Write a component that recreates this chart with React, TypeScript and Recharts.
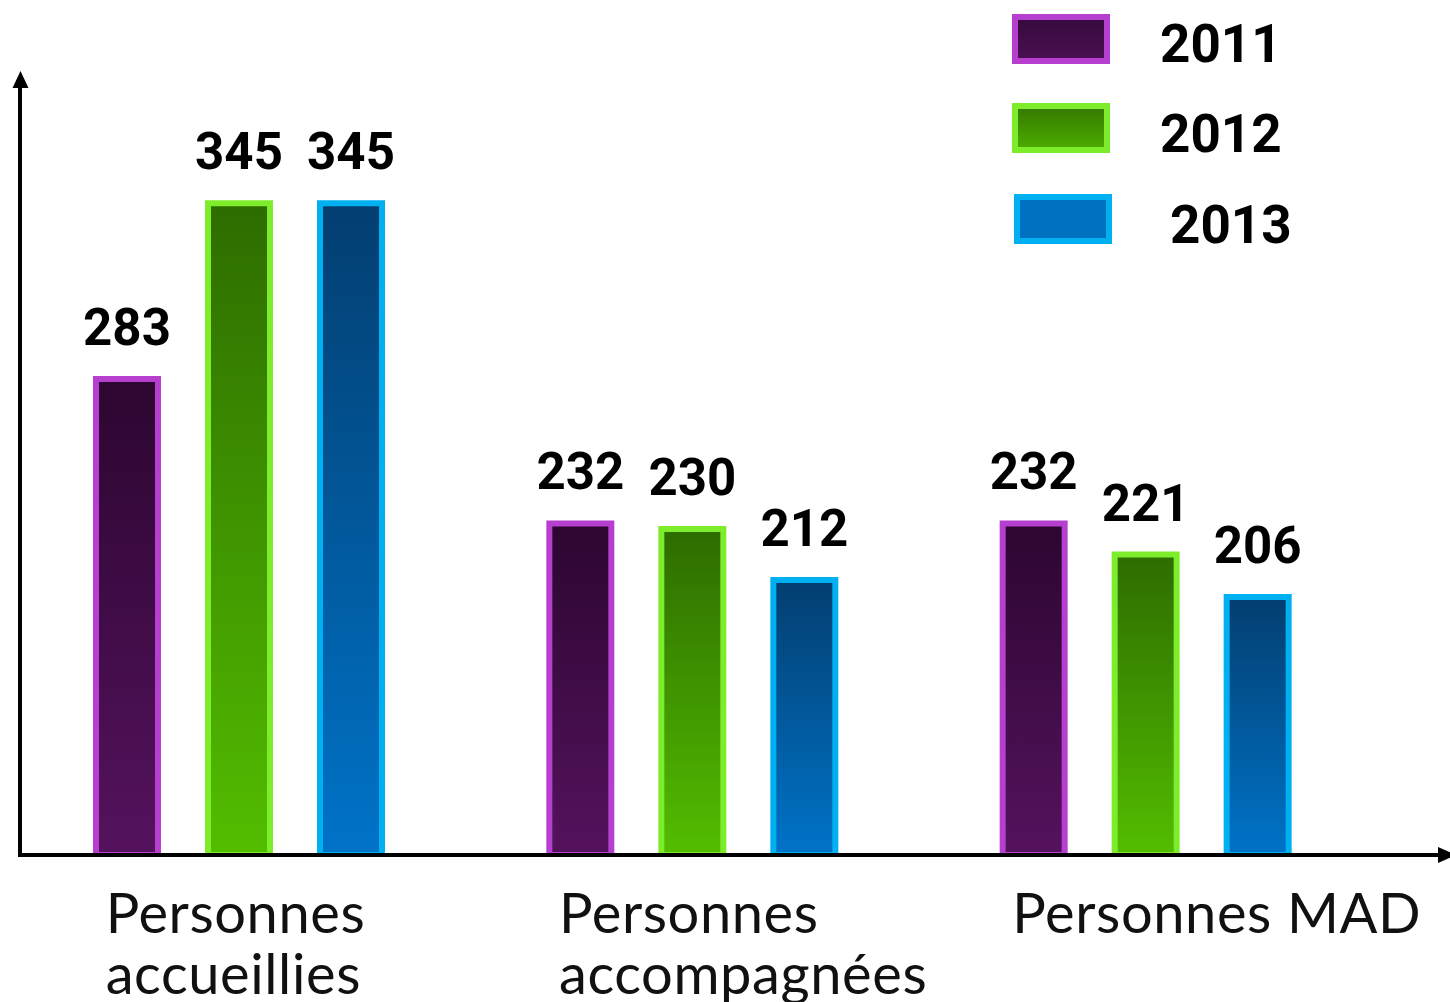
import React from 'react';
import { BarChart, Bar, XAxis, YAxis, LabelList } from 'recharts';

const categories = ['Personnes accueillies', 'Personnes accompagnées', 'Personnes MAD'];
const tickLines: string[][] = [['Personnes', 'accueillies'], ['Personnes', 'accompagnées'], ['Personnes MAD']];
const values2011 = [283, 232, 232];
const values2012 = [345, 230, 221];
const values2013 = [345, 212, 206];
const seriesNames = ['2011', '2012', '2013'];
const seriesKeys = ['y2011', 'y2012', 'y2013'];
const strokes = ['#b63fd0', '#7ded2b', '#00b0f0'];
const gradIds = ['gPurple', 'gGreen', 'gBlue'];

const data = categories.map((c, i) => ({
  category: c,
  y2011: values2011[i],
  y2012: values2012[i],
  y2013: values2013[i],
}));

const W = 1450;
const H = 1002;

const CategoryTick = (props: any) => {
  const { x, y, index } = props;
  const lines = tickLines[index] || [];
  return (
    <g>
      {lines.map((l, k) => (
        <text
          key={k}
          x={x - 133}
          y={y + 76 + k * 61}
          textAnchor="start"
          fontFamily="Lato, 'Open Sans', sans-serif"
          fontSize={56}
          letterSpacing={0.6}
          fill="#111"
        >
          {l}
        </text>
      ))}
    </g>
  );
};

const legendRows = [
  { rx: 1015, ry: 17, tx: 1160, ty: 62 },
  { rx: 1015, ry: 106, tx: 1160, ty: 152 },
  { rx: 1017, ry: 197, tx: 1170, ty: 243 },
];

export default function App() {
  return (
    <div style={{ position: 'absolute', left: 0, top: 0, width: W, height: H, background: '#fff', overflow: 'hidden' }}>
      <BarChart
        width={W}
        height={H}
        data={data}
        margin={{ top: 189, right: 78, left: 12, bottom: 0 }}
        barSize={62}
        barGap={50}
      >
        <defs>
          <linearGradient id="gPurple" x1="0" y1="0" x2="0" y2="1">
            <stop offset="0%" stopColor="#2c0630" />
            <stop offset="100%" stopColor="#55125e" />
          </linearGradient>
          <linearGradient id="gGreen" x1="0" y1="0" x2="0" y2="1">
            <stop offset="0%" stopColor="#2d6c00" />
            <stop offset="100%" stopColor="#53bd00" />
          </linearGradient>
          <linearGradient id="gBlue" x1="0" y1="0" x2="0" y2="1">
            <stop offset="0%" stopColor="#033e70" />
            <stop offset="100%" stopColor="#0073c8" />
          </linearGradient>
        </defs>
        <XAxis
          dataKey="category"
          height={147}
          axisLine={false}
          tickLine={false}
          tickSize={0}
          tick={<CategoryTick />}
          interval={0}
        />
        <YAxis hide domain={[115, 350]} allowDataOverflow />
        {seriesKeys.map((k, i) => (
          <Bar
            key={k}
            dataKey={k}
            name={seriesNames[i]}
            fill={`url(#${gradIds[i]})`}
            stroke={strokes[i]}
            strokeWidth={6}
            isAnimationActive={false}
          >
            <LabelList
              dataKey={k}
              position="top"
              offset={34}
              style={{ fontFamily: 'Roboto, sans-serif', fontWeight: 700, fontSize: 51, fill: '#000' }}
            />
          </Bar>
        ))}
      </BarChart>
      <svg width={W} height={H} style={{ position: 'absolute', left: 0, top: 0, pointerEvents: 'none' }}>
        <defs>
          <linearGradient id="gPurpleL" x1="0" y1="0" x2="0" y2="1">
            <stop offset="0%" stopColor="#360a3d" />
            <stop offset="100%" stopColor="#4c0f52" />
          </linearGradient>
          <linearGradient id="gGreenL" x1="0" y1="0" x2="0" y2="1">
            <stop offset="0%" stopColor="#347800" />
            <stop offset="100%" stopColor="#4dae00" />
          </linearGradient>
          <linearGradient id="gBlueL" x1="0" y1="0" x2="0" y2="1">
            <stop offset="0%" stopColor="#0070c0" />
            <stop offset="100%" stopColor="#0070c0" />
          </linearGradient>
        </defs>
        {seriesNames.map((n, i) => (
          <g key={n}>
            <rect x={legendRows[i].rx} y={legendRows[i].ry} width={92} height={44} fill={`url(#${gradIds[i]}L)`} stroke={strokes[i]} strokeWidth={6} />
            <text x={legendRows[i].tx} y={legendRows[i].ty} fontFamily="Roboto, sans-serif" fontWeight={700} fontSize={53} fill="#000">
              {n}
            </text>
          </g>
        ))}
        <line x1={20} y1={857} x2={20} y2={84} stroke="#000" strokeWidth={4} />
        <polygon points="12.5,88 28.5,88 20.5,71" fill="#000" />
        <line x1={18} y1={855} x2={1440} y2={855} stroke="#000" strokeWidth={4} />
        <polygon points="1438,847 1438,863 1456,855" fill="#000" />
      </svg>
    </div>
  );
}
